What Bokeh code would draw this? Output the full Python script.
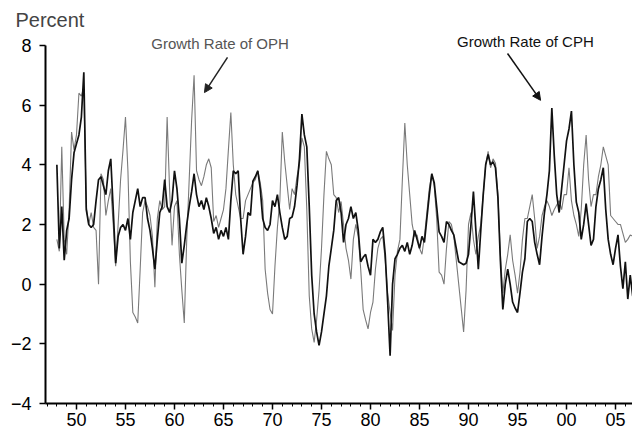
from bokeh.plotting import figure
from bokeh.models import FixedTicker, Label, Arrow, NormalHead
from bokeh.embed import file_html
from bokeh.resources import INLINE

start_year = 1948
years = list(range(1948, 2007))

# Growth rate of OPH (lighter line), quarterly 1948Q1-2006Q4
oph = [
    1.5, 1.1, 4.6, 1.5,    # 48
    1.0, 2.5, 5.1, 4.5,    # 49
    5.0, 6.4, 6.3, 6.6,    # 50
    2.6, 2.0, 2.4, 1.9,    # 51
    1.8, 0.0, 3.7, 3.5,    # 52
    2.3, 2.8, 3.2, 2.0,    # 53
    0.6, 2.0, 3.5, 4.5,    # 54
    5.6, 3.8, 0.75, -0.95, # 55
    -1.1, -1.3, 0.5, 2.4,  # 56
    2.8, 2.6, 2.3, 1.6,    # 57
    -0.1, 2.2, 2.8, 2.5,   # 58
    2.6, 5.6, 3.2, 1.3,    # 59
    2.6, 2.8, 1.0, -0.2,   # 60
    -1.3, 1.5, 3.5, 5.5,   # 61
    7.0, 3.8, 3.5, 3.3,    # 62
    3.6, 4.0, 4.2, 3.9,    # 63
    2.1, 2.3, 1.9, 2.2,    # 64
    2.5, 3.2, 4.5, 5.75,   # 65
    4.0, 3.0, 2.6, 2.2,    # 66
    2.2, 2.8, 3.0, 3.2,    # 67
    3.4, 3.5, 3.8, 3.4,    # 68
    2.8, 0.5, -0.3, -0.85, # 69
    -1.0, 0.6, 1.9, 2.8,   # 70
    5.1, 4.1, 3.3, 2.5,    # 71
    3.2, 3.0, 3.6, 4.0,    # 72
    4.9, 4.6, 2.5, -0.4,   # 73
    -1.5, -1.95, -1.2, -0.2,  # 74
    1.2, 3.0, 4.45, 4.2,   # 75
    4.0, 3.0, 2.9, 2.4,    # 76
    2.77, 2.0, 1.2, 0.8,   # 77
    0.17, 1.5, 2.0, 1.6,   # 78
    0.5, -0.85, -1.2, -1.5,  # 79
    -0.95, -0.6, 0.5, 1.2, # 80
    1.5, 1.6, 0.8, -0.3,   # 81
    -0.95, -1.55, 0.3, 1.1,  # 82
    1.5, 3.5, 5.4, 4.0,    # 83
    3.0, 2.0, 1.6, 1.65,   # 84
    1.2, 1.0, 1.6, 2.4,    # 85
    3.2, 3.7, 3.3, 2.2,    # 86
    0.4, 0.3, 0.0, 1.2,    # 87
    2.1, 2.0, 1.6, 0.8,    # 88
    0.0, -0.8, -1.6, -0.2, # 89
    2.0, 2.4, 1.5, 1.0,    # 90
    1.6, 2.0, 3.0, 4.0,    # 91
    4.45, 3.9, 4.2, 4.05,  # 92
    3.0, 1.0, -0.3, 0.5,   # 93
    1.0, 1.65, 0.8, 0.3,   # 94
    -0.3, 0.4, 1.5, 2.2,   # 95
    2.2, 2.6, 3.0, 2.2,    # 96
    1.2, 1.6, 2.3, 2.6,    # 97
    2.8, 2.6, 2.3, 2.5,    # 98
    2.65, 2.8, 2.5, 3.0,   # 99
    3.0, 3.9, 2.8, 2.3,    # 00
    2.0, 1.6, 2.5, 4.0,    # 01
    5.0, 3.5, 2.6, 3.0,    # 02
    3.0, 3.6, 4.0, 4.6,    # 03
    4.3, 4.0, 2.3, 2.2,    # 04
    2.1, 2.0, 2.0, 1.7,    # 05
    1.4, 1.5, 1.65, 1.6,   # 06
]

# Growth rate of CPH (darker line), quarterly 1948Q1-2006Q4
cph = [
    4.0, 1.2, 2.6, 0.8,    # 48
    1.8, 2.2, 3.5, 4.4,    # 49
    4.7, 5.0, 5.6, 7.1,    # 50
    2.5, 2.0, 1.9, 2.0,    # 51
    2.8, 3.5, 3.6, 3.3,    # 52
    3.0, 3.8, 4.2, 2.5,    # 53
    0.7, 1.6, 1.9, 2.0,    # 54
    1.8, 2.2, 1.5, 2.4,    # 55
    2.8, 3.2, 2.6, 2.9,    # 56
    2.9, 2.2, 1.8, 1.2,    # 57
    0.5, 1.5, 2.4, 2.6,    # 58
    3.5, 2.6, 2.4, 2.8,    # 59
    3.8, 3.2, 2.2, 0.7,    # 60
    1.3, 2.0, 2.6, 3.1,    # 61
    3.7, 3.0, 2.6, 2.8,    # 62
    2.5, 2.9, 2.6, 2.2,    # 63
    1.7, 1.9, 1.5, 1.8,    # 64
    1.6, 1.9, 1.5, 2.8,    # 65
    3.8, 3.7, 3.8, 2.2,    # 66
    1.0, 1.6, 2.4, 2.3,    # 67
    3.45, 3.6, 3.8, 3.2,   # 68
    2.2, 1.9, 1.8, 2.0,    # 69
    2.8, 2.6, 3.0, 2.4,    # 70
    1.9, 1.5, 1.6, 2.2,    # 71
    2.25, 2.6, 3.3, 4.2,   # 72
    5.7, 5.0, 4.6, 2.6,    # 73
    0.3, -1.0, -1.6, -2.05,  # 74
    -1.6, -1.0, -0.4, 0.6, # 75
    1.2, 1.8, 2.8, 2.9,    # 76
    2.4, 1.4, 2.0, 2.2,    # 77
    2.6, 2.2, 2.4, 1.8,    # 78
    0.75, 0.9, 1.0, 0.6,   # 79
    0.3, 1.5, 1.4, 1.5,    # 80
    1.75, 1.9, 1.0, -0.6,  # 81
    -2.4, 0.0, 0.85, 1.0,  # 82
    1.2, 1.3, 1.1, 1.4,    # 83
    1.0, 1.3, 1.8, 1.5,    # 84
    1.2, 1.6, 1.4, 2.2,    # 85
    3.0, 3.7, 3.4, 2.6,    # 86
    1.75, 1.6, 1.4, 2.1,   # 87
    2.0, 1.8, 1.65, 1.2,   # 88
    0.75, 0.7, 0.65, 0.7,  # 89
    1.0, 2.0, 3.1, 1.8,    # 90
    0.5, 1.8, 3.0, 4.0,    # 91
    4.35, 4.0, 4.1, 3.9,   # 92
    2.9, 0.8, -0.85, 0.0,  # 93
    0.5, 0.0, -0.6, -0.8,  # 94
    -0.95, -0.3, 0.4, 0.85,  # 95
    2.1, 2.2, 2.1, 1.4,    # 96
    1.0, 0.65, 1.6, 2.4,   # 97
    3.0, 3.8, 5.9, 4.3,    # 98
    3.0, 2.4, 3.2, 4.0,    # 99
    4.8, 5.2, 5.8, 4.0,    # 00
    2.75, 2.4, 1.5, 2.0,   # 01
    2.7, 2.0, 1.3, 1.5,    # 02
    2.6, 3.2, 3.5, 3.9,    # 03
    2.5, 1.5, 1.0, 0.65,   # 04
    1.2, 1.65, 0.6, -0.15, # 05
    0.75, -0.5, 0.3, -0.4, # 06
]

quarters = [start_year + i * 0.25 for i in range(len(oph))]

tick_years = [1950, 1955, 1960, 1965, 1970, 1975, 1980, 1985, 1990, 1995, 2000, 2005]
tick_labels = ["50", "55", "60", "65", "70", "75", "80", "85", "90", "95", "00", "05"]
y_ticks = [-4, -2, 0, 2, 4, 6, 8]

FONT = "Liberation Sans"

p = figure(width=632, height=434, x_range=(1946.84, 2006.73), y_range=(-4, 8.5),
           output_backend="svg", toolbar_location=None,
           min_border_left=45, min_border_right=0, min_border_bottom=31, min_border_top=30,
           outline_line_color=None, background_fill_color="white")
p.grid.visible = False

p.title.text = "Percent"
p.title.text_font = FONT
p.title.text_font_size = "20px"
p.title.text_font_style = "normal"
p.title.align = "left"
p.title.offset = -30
p.title.standoff = 0

p.xaxis.ticker = FixedTicker(ticks=tick_years, minor_ticks=list(range(1947, 2007)))
p.xaxis.major_label_overrides = dict(zip(tick_years, tick_labels))
p.yaxis.ticker = FixedTicker(ticks=y_ticks, minor_ticks=[])
p.yaxis.bounds = (-4, 8)

for ax in (p.xaxis, p.yaxis):
    ax.axis_line_width = 2
    ax.axis_line_color = "black"
    ax.major_tick_in = 0
    ax.major_tick_out = 6
    ax.major_tick_line_width = 1.5
    ax.minor_tick_in = 0
    ax.minor_tick_out = 3
    ax.minor_tick_line_width = 1
    ax.major_label_text_font = FONT
    ax.major_label_text_font_size = "18px"
    ax.major_label_text_color = "black"
p.xaxis.major_label_standoff = 3
p.yaxis.major_label_standoff = 8

p.line(quarters, oph, line_color="#7a7a7a", line_width=1.1)
p.line(quarters, cph, line_color="#111111", line_width=1.7)

p.add_layout(Label(x=1964.65, y=8.07, text="Growth Rate of OPH", text_align="center",
                   text_baseline="middle", text_font=FONT, text_font_size="15px",
                   text_color="#555555"))
p.add_layout(Label(x=1995.8, y=8.12, text="Growth Rate of CPH", text_align="center",
                   text_baseline="middle", text_font=FONT, text_font_size="15px",
                   text_color="#111111"))
p.add_layout(Arrow(end=NormalHead(size=8, fill_color="#222222", line_color="#222222"),
                   x_start=1965.41, y_start=7.6, x_end=1963.06, y_end=6.42,
                   line_color="#222222", line_width=1.5))
p.add_layout(Arrow(end=NormalHead(size=8, fill_color="#111111", line_color="#111111"),
                   x_start=1993.98, y_start=7.73, x_end=1997.35, y_end=6.16,
                   line_color="#111111", line_width=1.5))

open("out.html", "w").write(file_html(p, INLINE))
